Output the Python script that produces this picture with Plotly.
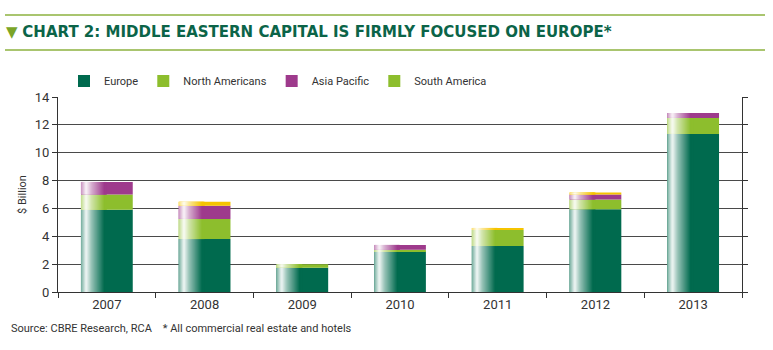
import plotly.graph_objects as go

years = ["2007", "2008", "2009", "2010", "2011", "2012", "2013"]
europe = [5.9, 3.8, 1.75, 2.9, 3.3, 5.95, 11.35]
north_americans = [1.1, 1.45, 0.25, 0.13, 1.15, 0.7, 1.15]
asia_pacific = [0.9, 0.95, 0.0, 0.35, 0.0, 0.35, 0.35]
south_america = [0.0, 0.28, 0.0, 0.0, 0.15, 0.15, 0.0]

series = [
    ("Europe", europe, (0, 106, 78), (0, 106, 78)),
    ("North Americans", north_americans, (141, 190, 45), (141, 190, 45)),
    ("Asia Pacific", asia_pacific, (158, 58, 140), (158, 58, 140)),
    ("South America", south_america, (245, 196, 0), (141, 190, 45)),
]

FONT = "Roboto, sans-serif"
BAR_W = 0.53

def rgb(c):
    return "rgb(%d,%d,%d)" % c

def mix(c, t):
    return tuple(int(round(v + (255 - v) * t)) for v in c)

def whiteness(f):
    # piecewise-linear highlight profile across the bar width
    pts = [(0.0, 0.45), (0.10, 0.95), (0.20, 0.6), (0.45, 0.0)]
    for (x0, y0), (x1, y1) in zip(pts, pts[1:]):
        if x0 <= f <= x1:
            return y0 + (y1 - y0) * (f - x0) / (x1 - x0)
    return 0.0

STEP = 0.02
N = int(0.46 / STEP) + 1

fig = go.Figure()
cum = [0.0] * len(years)
for name, vals, col, legcol in series:
    base = list(cum)
    fig.add_trace(go.Bar(
        x=years, y=vals, base=base, name=name, width=BAR_W,
        marker=dict(color=rgb(col), line=dict(width=0)),
        showlegend=False,
    ))
    for i in range(N):
        frac = i * STEP
        t = whiteness(frac + STEP / 2)
        fig.add_trace(go.Bar(
            x=years, y=vals, base=base, width=BAR_W * STEP * 2,
            offset=-BAR_W / 2 + frac * BAR_W,
            marker=dict(color=rgb(mix(col, t)), line=dict(width=0)),
            showlegend=False, hoverinfo="skip",
        ))
    fig.add_trace(go.Bar(
        x=[None], y=[None], name=name,
        marker=dict(color=rgb(legcol), line=dict(width=0)),
        showlegend=True,
    ))
    cum = [a + b for a, b in zip(cum, vals)]

L, R, T, B = 58, 31, 97, 58
W, H = 773, 350
pw, ph = W - L - R, H - T - B

def px(x):
    return (x - L) / pw

def py(y):
    return (H - B - y) / ph

fig.update_layout(
    width=W, height=H,
    margin=dict(l=L, r=R, t=T, b=B),
    barmode="overlay",
    plot_bgcolor="white", paper_bgcolor="white",
    font=dict(family=FONT, size=12, color="#333333"),
    legend=dict(orientation="h", x=px(64), y=py(81), xanchor="left", yanchor="middle",
                font=dict(family=FONT, size=11, color="#333333"),
                itemwidth=30, traceorder="normal", bgcolor="rgba(0,0,0,0)"),
    xaxis=dict(showline=True, linecolor="#333333", linewidth=1, ticks="outside",
               tickson="boundaries", ticklen=5, tickcolor="#333333",
               tickfont=dict(family=FONT, size=13, color="#333333"), showgrid=False),
    yaxis=dict(range=[0, 14], dtick=2, showline=True, linecolor="#333333", linewidth=1,
               mirror="ticks", ticks="outside", ticklen=5, tickcolor="#333333",
               gridcolor="#4a4a4a", gridwidth=1, zeroline=False,
               tickfont=dict(family=FONT, size=13, color="#333333"),
               title=dict(text="$ Billion", font=dict(family=FONT, size=11, color="#333333"), standoff=5)),
    shapes=[
        dict(type="line", xref="paper", yref="paper", x0=px(5), x1=px(765), y0=py(15), y1=py(15),
             line=dict(color="#8DB23F", width=1.5)),
        dict(type="line", xref="paper", yref="paper", x0=px(5), x1=px(765), y0=py(50), y1=py(50),
             line=dict(color="#8DB23F", width=1.5)),
    ],
    annotations=[
        dict(xref="paper", yref="paper", x=px(4), y=py(32), xanchor="left", yanchor="middle",
             showarrow=False,
             text="<span style='color:#7BA428'>▼</span> <b>CHART 2: MIDDLE EASTERN CAPITAL IS FIRMLY FOCUSED ON EUROPE*</b>",
             font=dict(family="DejaVu Sans", size=15, color="#0B6448")),
        dict(xref="paper", yref="paper", x=px(9), y=py(328), xanchor="left", yanchor="middle",
             showarrow=False,
             text="Source: CBRE Research, RCA    * All commercial real estate and hotels",
             font=dict(family=FONT, size=11, color="#333333")),
    ],
)

fig.write_html("out.html")
